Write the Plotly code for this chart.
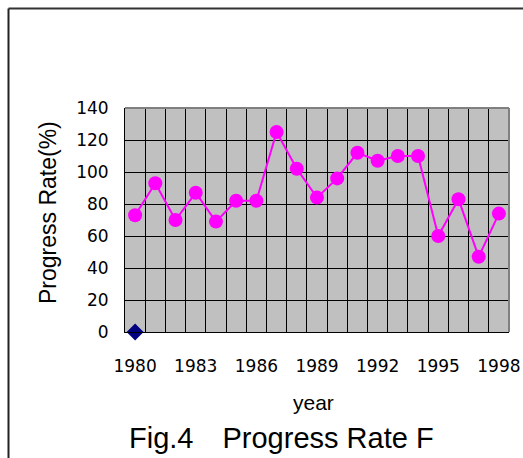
import plotly.graph_objects as go

years = list(range(1980, 1999))
rate = [73, 93, 70, 87, 69, 82, 82, 125, 102, 84, 96, 112, 107, 110, 110, 60, 83, 47, 74]
base_year = [1980]
base_val = [0]
xtick_vals = [1980, 1983, 1986, 1989, 1992, 1995, 1998]
ytick_vals = [0, 20, 40, 60, 80, 100, 120, 140]

W, H = 523, 458
L, R, T, B = 125, 509, 108, 332

def px(x):
    return (x - L) / (R - L)

def py(y):
    return (B - y) / (B - T)

fig = go.Figure()
fig.add_trace(go.Scatter(x=years, y=rate, mode="lines+markers",
                         line=dict(color="#FF00FF", width=2),
                         marker=dict(color="#FF00FF", size=14),
                         cliponaxis=False, showlegend=False))
fig.add_trace(go.Scatter(x=base_year, y=base_val, mode="markers",
                         marker=dict(color="#000080", symbol="diamond", size=13),
                         cliponaxis=False, showlegend=False))

tickfont = dict(family="DejaVu Sans", size=17, color="black")
fig.update_layout(
    width=W, height=H, autosize=False,
    margin=dict(l=L, r=W - R, t=T, b=H - B, autoexpand=False),
    paper_bgcolor="white", plot_bgcolor="#C0C0C0",
    xaxis=dict(range=[1979.5, 1998.5], tickvals=xtick_vals,
               ticktext=[str(v) for v in xtick_vals], automargin=False,
               showgrid=False, zeroline=False,
               showline=True, linecolor="black", linewidth=1,
               ticks="", tickfont=tickfont, ticklabelstandoff=19,
               minor=dict(tick0=1979.5, dtick=1, showgrid=True,
                          gridcolor="black", gridwidth=1, ticks="")),
    yaxis=dict(range=[0, 140], tickvals=ytick_vals, automargin=False,
               showgrid=True, gridcolor="black", gridwidth=1,
               zeroline=False, showline=True, linecolor="black", linewidth=1,
               ticks="", tickfont=tickfont, ticklabelstandoff=12),
    shapes=[
        dict(type="line", xref="paper", yref="paper", x0=0, x1=1, y0=1, y1=1,
             line=dict(color="#808080", width=2)),
        dict(type="line", xref="paper", yref="paper", x0=1, x1=1, y0=0, y1=1,
             line=dict(color="#808080", width=2)),
        dict(type="line", xref="paper", yref="paper",
             x0=px(8.5), x1=px(530), y0=py(8.5), y1=py(8.5),
             line=dict(color="#333333", width=2)),
        dict(type="line", xref="paper", yref="paper",
             x0=px(8.5), x1=px(8.5), y0=py(8.5), y1=py(470),
             line=dict(color="#222222", width=2)),
    ],
    annotations=[
        dict(text="Progress Rate(%)", xref="paper", yref="paper",
             x=px(48), y=py(213), textangle=-90, showarrow=False,
             xanchor="center", yanchor="middle",
             font=dict(family="Liberation Sans", size=23, color="black")),
        dict(text="year", xref="paper", yref="paper",
             x=px(313), y=py(402), showarrow=False,
             xanchor="center", yanchor="middle",
             font=dict(family="Liberation Sans", size=21, color="black")),
        dict(text="Fig.4\u3000Progress Rate F", xref="paper", yref="paper",
             x=px(281), y=py(438), showarrow=False,
             xanchor="center", yanchor="middle",
             font=dict(family="Liberation Sans", size=29, color="black")),
    ],
)

fig.write_html("out.html",
               config={"displayModeBar": False, "responsive": False},
               post_script="document.body.style.margin='0';"
                           "document.body.style.overflow='hidden';")
